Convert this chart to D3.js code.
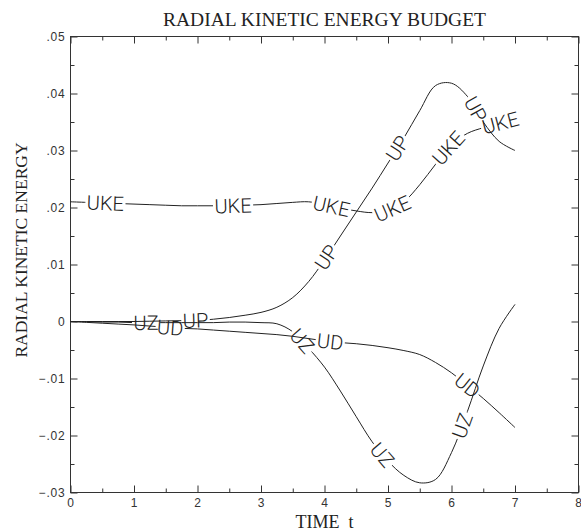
<!DOCTYPE html>
<html>
<head>
<meta charset="utf-8">
<script src="https://cdn.jsdelivr.net/npm/d3@7"></script>
<style>
  html, body { margin: 0; padding: 0; background: #fff; }
  svg { display: block; }
</style>
</head>
<body>
<svg id="chart" width="581" height="531"></svg>
<script>
// Time samples (t) shared by every series
const timeSteps = [0, 0.25, 0.5, 0.75, 1, 1.25, 1.5, 1.75, 2, 2.25, 2.5, 2.75, 3, 3.25, 3.5,
  3.75, 4, 4.25, 4.5, 4.75, 5, 5.25, 5.5, 5.75, 6, 6.25, 6.5, 6.75, 7];

// Radial kinetic energy budget terms
const ukeValues = [0.0210, 0.0209, 0.0208, 0.0207, 0.0206, 0.0205, 0.0204, 0.0203, 0.0203, 0.0203,
  0.0203, 0.0204, 0.0205, 0.0207, 0.0209, 0.0210, 0.0205, 0.0199, 0.0194, 0.0191,
  0.0195, 0.0210, 0.0240, 0.0276, 0.0310, 0.0330, 0.0340, 0.0348, 0.0355];
const upValues = [0, 0, 0, 0, 0, 0.00005, 0.0001, 0.00015, 0.0002, 0.0004,
  0.0007, 0.0011, 0.0016, 0.0025, 0.0042, 0.0070, 0.0108, 0.0150, 0.0192, 0.0234,
  0.0278, 0.0322, 0.0370, 0.0414, 0.0418, 0.0395, 0.0350, 0.0316, 0.0300];
const uzValues = [0, -0.00005, -0.0001, -0.0001, -0.0002, -0.0002, -0.0002, -0.0002, -0.0002, -0.0002,
  -0.0001, -0.0001, -0.0002, -0.0004, -0.0018, -0.0047, -0.0080, -0.0122, -0.0167, -0.0211,
  -0.0245, -0.0270, -0.0283, -0.0277, -0.0230, -0.0158, -0.0078, -0.0012, 0.0030];
const udValues = [0, -0.00015, -0.0003, -0.00045, -0.0006, -0.0008, -0.0010, -0.0012, -0.0013, -0.0015,
  -0.0017, -0.0019, -0.0021, -0.0023, -0.0026, -0.0030, -0.0034, -0.0037, -0.0039, -0.0042,
  -0.0046, -0.0051, -0.0058, -0.0072, -0.0090, -0.0112, -0.0135, -0.0160, -0.0186];

// Series names (also the in-line curve labels) and where along t each label sits
const seriesNames = ["UKE", "UP", "UZ", "UD"];
const ukeLabelTimes = [0.55, 2.56, 4.11, 5.07, 5.95, 6.77];
const upLabelTimes = [1.97, 4.03, 5.15, 6.38];
const uzLabelTimes = [1.19, 3.65, 4.91, 6.17];
const udLabelTimes = [1.57, 4.09, 6.25];

// Axis ticks
const xMajorTicks = [0, 1, 2, 3, 4, 5, 6, 7, 8];
const xTickLabels = ["0", "1", "2", "3", "4", "5", "6", "7", "8"];
const xMinorTicks = [0.5, 1.5, 2.5, 3.5, 4.5, 5.5, 6.5, 7.5];
const yMajorTicks = [0.05, 0.04, 0.03, 0.02, 0.01, 0, -0.01, -0.02, -0.03];
const yTickLabels = [".05", ".04", ".03", ".02", ".01", "0", "\u2212.01", "\u2212.02", "\u2212.03"];
const yMinorTicks = [0.045, 0.035, 0.025, 0.015, 0.005, -0.005, -0.015, -0.025];

const titleText = "RADIAL KINETIC ENERGY BUDGET";
const xTitle = "TIME\u2002t";
const yTitle = "RADIAL KINETIC ENERGY";

const seriesValues = [ukeValues, upValues, uzValues, udValues];
const seriesLabelTimes = [ukeLabelTimes, upLabelTimes, uzLabelTimes, udLabelTimes];

const W = 581, H = 531;
const plot = { left: 70.5, right: 578.5, top: 36.5, bottom: 492.5 };
const ink = "#222";

const svg = d3.select("#chart");
const x = d3.scaleLinear().domain([0, 8]).range([plot.left, plot.right]);
const y = d3.scaleLinear().domain([-0.03, 0.05]).range([plot.bottom, plot.top]);

// ---------- axes: inward ticks on all four sides ----------
function styleAxis(g) {
  g.select(".domain").remove();
  g.attr("color", "#333").attr("font-family", "'Liberation Sans', Arial, sans-serif")
   .attr("font-size", 12);
  g.selectAll(".tick line").attr("stroke-width", 1);
  g.selectAll(".tick text").attr("fill", "#333").attr("letter-spacing", "0.8px");
}
svg.append("g").attr("transform", `translate(0,${plot.bottom})`)
  .call(d3.axisBottom(x).tickValues(xMajorTicks).tickSize(-7).tickPadding(6)
    .tickFormat((d, i) => xTickLabels[i])).call(styleAxis);
svg.append("g").attr("transform", `translate(0,${plot.bottom})`)
  .call(d3.axisBottom(x).tickValues(xMinorTicks).tickSize(-4).tickFormat("")).call(styleAxis);
svg.append("g").attr("transform", `translate(0,${plot.top})`)
  .call(d3.axisTop(x).tickValues(xMajorTicks).tickSize(-7).tickFormat("")).call(styleAxis);
svg.append("g").attr("transform", `translate(0,${plot.top})`)
  .call(d3.axisTop(x).tickValues(xMinorTicks).tickSize(-4).tickFormat("")).call(styleAxis);

svg.append("g").attr("transform", `translate(${plot.left},0)`)
  .call(d3.axisLeft(y).tickValues(yMajorTicks).tickSize(-7).tickPadding(5)
    .tickFormat((d, i) => yTickLabels[i])).call(styleAxis);
svg.append("g").attr("transform", `translate(${plot.left},0)`)
  .call(d3.axisLeft(y).tickValues(yMinorTicks).tickSize(-4).tickFormat("")).call(styleAxis);
svg.append("g").attr("transform", `translate(${plot.right},0)`)
  .call(d3.axisRight(y).tickValues(yMajorTicks).tickSize(-7).tickFormat("")).call(styleAxis);
svg.append("g").attr("transform", `translate(${plot.right},0)`)
  .call(d3.axisRight(y).tickValues(yMinorTicks).tickSize(-4).tickFormat("")).call(styleAxis);

// frame
svg.append("rect")
  .attr("x", plot.left).attr("y", plot.top)
  .attr("width", plot.right - plot.left).attr("height", plot.bottom - plot.top)
  .attr("fill", "none").attr("stroke", "#333").attr("stroke-width", 1);

// ---------- titles ----------
const serif = "'Liberation Serif', 'Times New Roman', serif";
svg.append("text").attr("x", (plot.left + plot.right) / 2).attr("y", 26)
  .attr("text-anchor", "middle").attr("font-family", serif).attr("font-size", 19.5)
  .attr("fill", ink).text(titleText);
svg.append("text").attr("x", (plot.left + plot.right) / 2).attr("y", 528)
  .attr("text-anchor", "middle").attr("font-family", serif).attr("font-size", 18)
  .attr("fill", ink).text(xTitle);
svg.append("text").attr("transform", "translate(27,250) rotate(-90)")
  .attr("text-anchor", "middle").attr("font-family", serif).attr("font-size", 17.5)
  .attr("fill", ink).text(yTitle);

// ---------- curves with in-line labels ----------
const line = d3.line()
  .x(d => x(d[0])).y(d => y(d[1]))
  .curve(d3.curveCatmullRom.alpha(0.5));

const defs = svg.append("defs");
const curvesG = svg.append("g");
const labelsG = svg.append("g");
const labelFont = "Roboto, 'Noto Sans', 'DejaVu Sans', sans-serif";

function lengthAtX(node, targetX) {
  let lo = 0, hi = node.getTotalLength();
  for (let k = 0; k < 40; k++) {
    const mid = (lo + hi) / 2;
    if (node.getPointAtLength(mid).x < targetX) lo = mid; else hi = mid;
  }
  return (lo + hi) / 2;
}

seriesNames.forEach((name, si) => {
  const pts = timeSteps.map((t, i) => [t, seriesValues[si][i]]);
  const maskId = "gap-" + name.toLowerCase();
  const mask = defs.append("mask").attr("id", maskId)
    .attr("maskUnits", "userSpaceOnUse")
    .attr("x", 0).attr("y", 0).attr("width", W).attr("height", H);
  mask.append("rect").attr("x", 0).attr("y", 0).attr("width", W).attr("height", H)
    .attr("fill", "#fff");

  const path = curvesG.append("path")
    .datum(pts)
    .attr("d", line)
    .attr("fill", "none")
    .attr("stroke", ink)
    .attr("stroke-width", 1)
    .attr("mask", `url(#${maskId})`);
  const node = path.node();
  const total = node.getTotalLength();

  seriesLabelTimes[si].forEach(t => {
    const L = lengthAtX(node, x(t));
    const p = node.getPointAtLength(L);
    const a = node.getPointAtLength(Math.max(0, L - 3));
    const b = node.getPointAtLength(Math.min(total, L + 3));
    const angle = Math.atan2(b.y - a.y, b.x - a.x) * 180 / Math.PI;

    const label = labelsG.append("text")
      .attr("transform", `translate(${p.x},${p.y}) rotate(${angle})`)
      .attr("text-anchor", "middle")
      .attr("dy", "0.36em")
      .attr("font-family", labelFont)
      .attr("font-weight", 300)
      .attr("font-size", 20)
      .attr("fill", ink)
      .text(name);
    const w = label.node().getComputedTextLength();
    mask.append("rect")
      .attr("x", -w / 2 - 1.5).attr("y", -9)
      .attr("width", w + 3).attr("height", 18)
      .attr("transform", `translate(${p.x},${p.y}) rotate(${angle})`)
      .attr("fill", "#000");
  });
});
</script>
</body>
</html>
